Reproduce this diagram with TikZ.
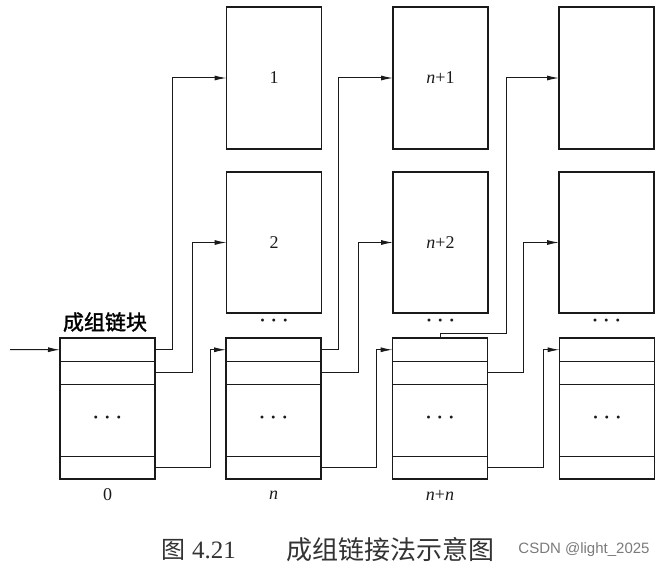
\documentclass[tikz,border=0pt]{standalone}
\usepackage{fontspec}
\setmainfont{Liberation Serif}
\newfontfamily\cjk{Noto Sans CJK SC}
\newfontfamily\cjkbold[FakeBold=1.5]{Noto Sans CJK SC}
\newfontfamily\wmfont{Liberation Sans}
\usetikzlibrary{arrows.meta, positioning, calc}
\definecolor{cline}{HTML}{1a1a1a}
\definecolor{ccap}{HTML}{333333}
\definecolor{cwm}{HTML}{7a7a7a}
\newcommand{\threedots}{\textbf{\textperiodcentered}\hspace{5.5pt}\textbf{\textperiodcentered}\hspace{5.5pt}\textbf{\textperiodcentered}}

\begin{document}
\begin{tikzpicture}[
  x=1pt, y=-1pt,
  font=\fontsize{18}{18}\selectfont,
  blk/.style={draw=cline, line width=1.7pt, minimum width=95pt, minimum height=141.5pt,
              inner sep=0pt, outer sep=0pt, text=cline},
  grp/.style={blk, minimum height=140.5pt},
  sep/.style={draw=cline, line width=1.3pt},
  thinsep/.style={draw=cline, line width=0.8pt},
  link/.style={draw=cline, line width=1pt, -{Latex[length=12pt, width=5pt]}},
  dotsty/.style={inner sep=0pt, text=cline},
]
\useasboundingbox (0,0) rectangle (668,575);
% Top blocks
\foreach \c/\x/\a/\b in {1/274/1/2, 2/440.5/\textit{n}+1/\textit{n}+2, 3/606.5//}{
  \node[blk] (t\c1) at (\x,78) {\a};
  \node[blk] (t\c2) at (\x,242.5) {\b};
  \node[dotsty] (td\c) at (\x,323) {\threedots};
}
% Group blocks
\foreach \g/\x in {0/107.5, 1/273.5, 2/440, 3/607}{
  \node[grp] (g\g) at (\x,408.5) {};
  \draw[sep] ([yshift=-23pt]g\g.north west) -- ([yshift=-23pt]g\g.north east);
  \draw[sep] ([yshift=-46pt]g\g.north west) -- ([yshift=-46pt]g\g.north east);
  \draw[thinsep] ([yshift=22pt]g\g.south west) -- ([yshift=22pt]g\g.south east);
  \coordinate (g\g w1) at ([yshift=-11.5pt]g\g.north west);
  \coordinate (g\g e1) at ([yshift=-11.5pt]g\g.north east);
  \coordinate (g\g e2) at ([yshift=-34.5pt]g\g.north east);
  \coordinate (g\g el) at ([yshift=11pt]g\g.south east);
  \node[dotsty] (gd\g) at (\x,420) {\threedots};
}
% Labels
\node[text=cline] (lab0) at (107.5,495) {0};
\node[text=cline] (lab1) at (273.5,495) {\textit{n}};
\node[text=cline] (lab2) at (440,495) {\textit{n}+\textit{n}};
\node[font=\cjkbold\fontsize{21}{21}\selectfont, text=black] (head) at (105,322) {成组链块};
% Links
\coordinate (in) at (10,349.5);
\draw[link] (in) -- (g0w1);
\foreach \g/\h in {0/1, 1/2}{
  \draw[link] (g\g e1) -- ++(17,0) |- (t\h1.west);
  \draw[link] (g\g e2) -- ++(37,0) |- (t\h2.west);
  \draw[link] (g\g el) -- ++(55,0) |- (g\h w1);
}
\draw[link] (g2.north) -- ++(0,-5) -- ++(66,0) |- (t31.west);
\draw[link] (g2e2) -- ++(36,0) |- (t32.west);
\draw[link] (g2el) -- ++(56,0) |- (g3w1);
% Caption
\node[font=\cjk\fontsize{24}{24}\selectfont, text=ccap] (capfig) at (173,550) {图};
\node[font=\fontsize{25}{25}\selectfont, text=ccap] (capnum) at (214,550) {4.21};
\node[font=\cjk\fontsize{26}{26}\selectfont, text=ccap] (captitle) at (390,550) {成组链接法示意图};
\node[font=\wmfont\fontsize{15}{15}\selectfont, text=cwm] (wm) at (584,550) {CSDN @light\_2025};
\end{tikzpicture}
\end{document}
